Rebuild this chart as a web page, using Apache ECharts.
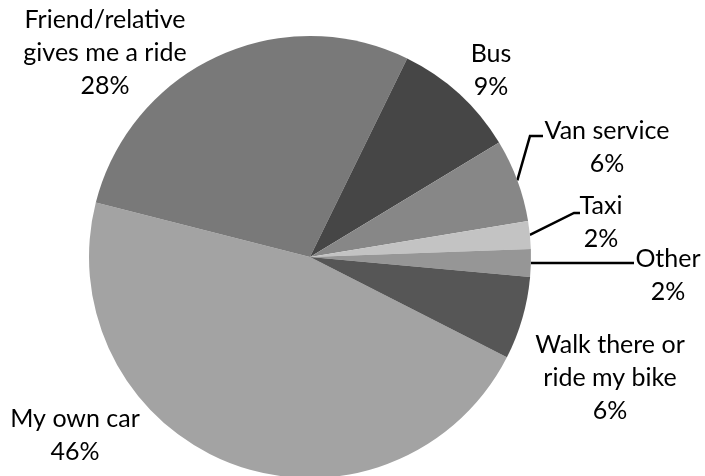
<!DOCTYPE html>
<html>
<head>
<meta charset="utf-8">
<script src="https://cdn.jsdelivr.net/npm/echarts@6/dist/echarts.min.js"></script>
<style>
  html, body { margin: 0; padding: 0; background: #fff; }
  #chart { width: 705px; height: 476px; }
</style>
</head>
<body>
<div id="chart"></div>
<script>
// How people get there: share of respondents by mode of transport
const categories = [
  'My own car',
  'Friend/relative\ngives me a ride',
  'Bus',
  'Van service',
  'Taxi',
  'Other',
  'Walk there or\nride my bike'
];
const shares = [46, 28, 9, 6, 2, 2, 6];

const sliceColors = ['#a3a3a3', '#797979', '#464646', '#878787', '#c3c3c3', '#969696', '#565656'];

// Label anchor (centre of text block) for each slice, and leader line bends
// (a null y keeps the segment level with the slice edge point)
const labelSpots = [
  { x: 75, y: 435 },
  { x: 105, y: 53 },
  { x: 491, y: 70 },
  { x: 607, y: 147, line: [[530, 136], [543, 136]] },
  { x: 601, y: 222, line: [[574, 213], [580, 213]] },
  { x: 668, y: 275, line: [[634, null]] },
  { x: 610, y: 378 }
];

const chart = echarts.init(document.getElementById('chart'), null, { renderer: 'canvas' });

chart.setOption({
  animation: false,
  series: [{
    type: 'pie',
    center: [310, 257],
    radius: 221,
    startAngle: -27,
    clockwise: true,
    avoidLabelOverlap: false,
    data: categories.map((name, i) => ({
      name: name,
      value: shares[i],
      itemStyle: { color: sliceColors[i] },
      labelLine: { show: !!labelSpots[i].line }
    })),
    itemStyle: { borderWidth: 0 },
    label: {
      show: true,
      position: 'outside',
      formatter: p => p.name + '\n' + p.value + '%',
      fontFamily: 'Lato',
      fontSize: 25,
      lineHeight: 33,
      color: '#000',
      align: 'center'
    },
    labelLine: {
      show: true,
      length: 10,
      length2: 10,
      smooth: false,
      lineStyle: { color: '#000', width: 2.5, cap: 'butt', join: 'miter' }
    },
    labelLayout: params => {
      const spot = labelSpots[params.dataIndex];
      const out = { x: spot.x, y: spot.y, align: 'center', verticalAlign: 'middle' };
      if (spot.line && params.labelLinePoints) {
        const start = params.labelLinePoints[0];
        const bends = spot.line.map(p => [p[0], p[1] === null ? start[1] : p[1]]);
        out.labelLinePoints = [start].concat(bends);
      }
      return out;
    }
  }]
});
</script>
</body>
</html>
